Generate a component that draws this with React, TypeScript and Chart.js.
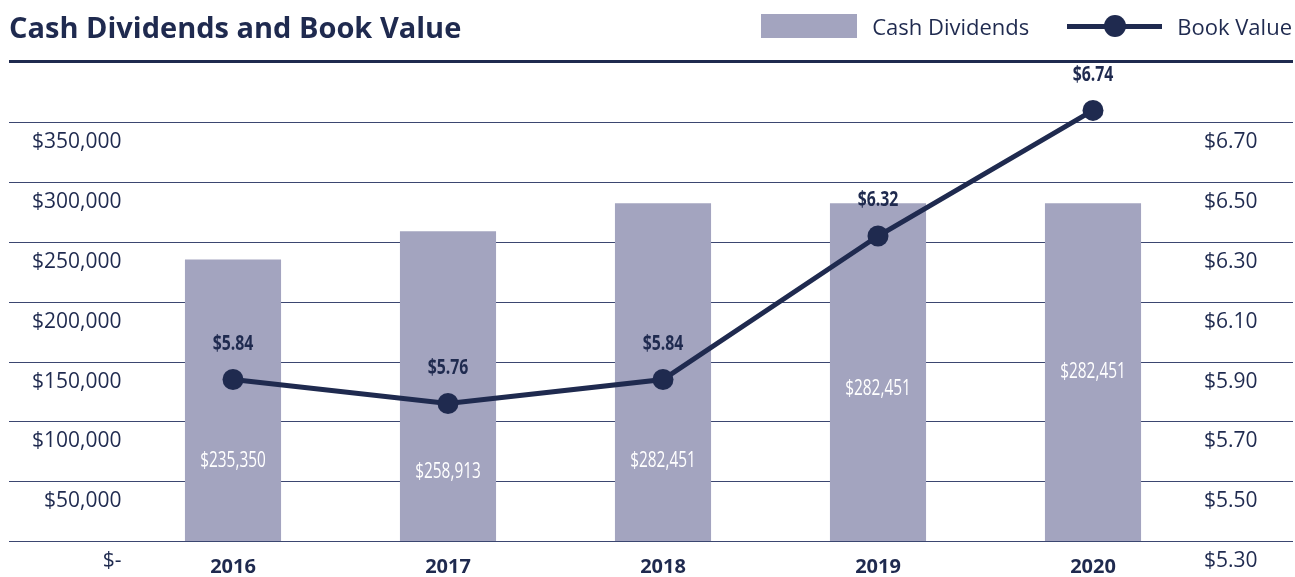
import React, { useEffect, useRef } from 'react';
import { Chart, registerables } from 'chart.js';

Chart.register(...registerables);

// ---- data ----
const years = ['2016', '2017', '2018', '2019', '2020'];
const cashDividends = [235350, 258913, 282451, 282451, 282451];
const bookValue = [5.84, 5.76, 5.84, 6.32, 6.74];
const cashValueLabels = ['$235,350', '$258,913', '$282,451', '$282,451', '$282,451'];
const bookValueLabels = ['$5.84', '$5.76', '$5.84', '$6.32', '$6.74'];
const cashTickValues = [0, 50000, 100000, 150000, 200000, 250000, 300000, 350000];
const cashTickLabels = ['$-', '$50,000', '$100,000', '$150,000', '$200,000', '$250,000', '$300,000', '$350,000'];
const bookTickValues = [5.3, 5.5, 5.7, 5.9, 6.1, 6.3, 6.5, 6.7];
const bookTickLabels = ['$5.30', '$5.50', '$5.70', '$5.90', '$6.10', '$6.30', '$6.50', '$6.70'];
// axis ranges (a little head-room above the top grid line for the last point)
const cashAxis = { min: 0, max: 375000 };
const bookAxis = { min: 5.3, max: 6.8 };

// ---- styles ----
const NAVY = '#1f2a4f';
const GRID = '#3b4670';
const BAR = '#a3a4bf';
const FONT = "'Open Sans', 'Noto Sans', sans-serif";

function drawNarrow(ctx: CanvasRenderingContext2D, text: string, x: number, y: number, sx: number) {
  ctx.save();
  ctx.translate(x, y);
  ctx.scale(sx, 1);
  ctx.fillText(text, 0, 0);
  ctx.restore();
}

const gridPlugin = {
  id: 'fullGrid',
  beforeDatasetsDraw(chart: any) {
    const { ctx } = chart;
    const y = chart.scales.y;
    ctx.save();
    ctx.strokeStyle = GRID;
    ctx.lineWidth = 1;
    y.ticks.forEach((_t: any, i: number) => {
      const py = Math.round(y.getPixelForTick(i)) + 0.5;
      ctx.beginPath();
      ctx.moveTo(9, py);
      ctx.lineTo(1293, py);
      ctx.stroke();
    });
    ctx.restore();
  },
};

const labelPlugin = {
  id: 'valueLabels',
  afterDatasetsDraw(chart: any) {
    const { ctx } = chart;
    const barMeta = chart.getDatasetMeta(0);
    const lineMeta = chart.getDatasetMeta(1);
    ctx.save();
    ctx.textAlign = 'center';
    ctx.textBaseline = 'middle';
    ctx.fillStyle = '#ffffff';
    ctx.font = `22px ${FONT}`;
    barMeta.data.forEach((bar: any, i: number) => {
      const pt = lineMeta.data[i];
      const upper = Math.max(bar.y, pt.y);
      drawNarrow(ctx, cashValueLabels[i], bar.x, (bar.base + upper) / 2, 0.7);
    });
    ctx.fillStyle = NAVY;
    ctx.font = `bold 22px ${FONT}`;
    lineMeta.data.forEach((pt: any, i: number) => {
      drawNarrow(ctx, bookValueLabels[i], pt.x, pt.y - 36, 0.72);
    });
    ctx.restore();
  },
};

function ChartCanvas() {
  const ref = useRef<HTMLCanvasElement | null>(null);
  useEffect(() => {
    if (!ref.current) return;
    const chart = new Chart(ref.current, {
      type: 'bar',
      data: {
        labels: years,
        datasets: [
          {
            type: 'bar',
            label: 'Cash Dividends',
            data: cashDividends,
            backgroundColor: BAR,
            borderWidth: 0,
            yAxisID: 'y',
            barPercentage: 0.447,
            categoryPercentage: 1,
            order: 1,
          },
          {
            type: 'line',
            label: 'Book Value',
            data: bookValue,
            borderColor: NAVY,
            backgroundColor: NAVY,
            borderWidth: 5,
            pointRadius: 10.5,
            pointHoverRadius: 10.5,
            pointBorderWidth: 0,
            pointBackgroundColor: NAVY,
            tension: 0,
            yAxisID: 'y1',
            clip: false,
            order: 0,
          } as any,
        ],
      },
      options: {
        responsive: false,
        animation: false,
        layout: { padding: { top: 92.5, left: 0, right: 0, bottom: 0 } },
        plugins: {
          legend: { display: false },
          tooltip: { enabled: false },
          title: { display: false },
        },
        scales: {
          x: {
            grid: { display: false, drawTicks: false },
            border: { display: false },
            ticks: {
              color: NAVY,
              font: { family: FONT, size: 20, weight: 'bold' },
              padding: 14,
              maxRotation: 0,
            },
            afterFit: (s: any) => { s.height = 36; },
          },
          y: {
            position: 'left',
            min: cashAxis.min,
            max: cashAxis.max,
            grid: { display: false, drawTicks: false },
            border: { display: false },
            afterBuildTicks: (s: any) => { s.ticks = cashTickValues.map((v) => ({ value: v })); },
            ticks: {
              color: NAVY,
              font: { family: FONT, size: 21 },
              padding: 4,
              labelOffset: 20,
              callback: (_v: any, i: number) => cashTickLabels[i],
            },
            afterFit: (s: any) => { s.width = 125.5; },
          },
          y1: {
            position: 'right',
            min: bookAxis.min,
            max: bookAxis.max,
            grid: { display: false, drawTicks: false },
            border: { display: false },
            afterBuildTicks: (s: any) => { s.ticks = bookTickValues.map((v) => ({ value: v })); },
            ticks: {
              color: NAVY,
              font: { family: FONT, size: 21 },
              padding: 3.5,
              labelOffset: 20,
              callback: (_v: any, i: number) => bookTickLabels[i],
            },
            afterFit: (s: any) => { s.width = 94.5; },
          },
        },
      } as any,
      plugins: [gridPlugin, labelPlugin],
    });
    return () => chart.destroy();
  }, []);
  return <canvas ref={ref} width={1295} height={577} style={{ display: 'block', position: 'absolute', left: 0, top: 0 }} />;
}

export default function App() {
  return (
    <div style={{ position: 'relative', width: 1295, height: 577, overflow: 'hidden', fontFamily: FONT, color: NAVY }}>
      <style>{'html,body{margin:0;padding:0;overflow:hidden;}'}</style>
      <ChartCanvas />
      <div style={{ position: 'absolute', left: 9, top: 0, width: 1284, height: 60, borderBottom: `3px solid ${NAVY}` }}>
        <div style={{ position: 'absolute', left: 0, top: 8.5, lineHeight: '36px', fontSize: 29, fontWeight: 700, whiteSpace: 'nowrap' }}>
          Cash Dividends and Book Value
        </div>
        <div style={{ position: 'absolute', right: 1, top: 8, height: 36, display: 'flex', alignItems: 'center', fontSize: 22, whiteSpace: 'nowrap' }}>
          <div style={{ width: 96, height: 24, background: BAR, marginRight: 15 }} />
          <span style={{ marginRight: 38 }}>Cash Dividends</span>
          <div style={{ position: 'relative', width: 95, height: 24, marginRight: 15 }}>
            <div style={{ position: 'absolute', left: 0, right: 0, top: 9.5, height: 5, background: NAVY }} />
            <div style={{ position: 'absolute', left: 37, top: 1, width: 22, height: 22, borderRadius: '50%', background: NAVY }} />
          </div>
          <span>Book Value</span>
        </div>
      </div>
    </div>
  );
}
